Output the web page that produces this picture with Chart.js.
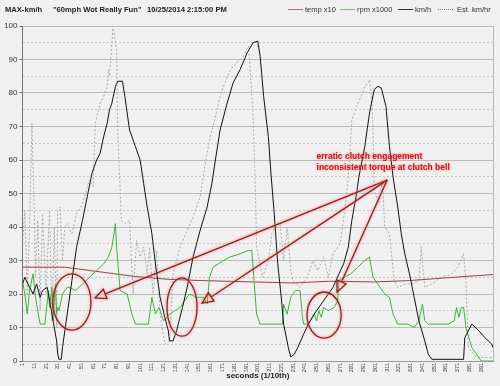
<!DOCTYPE html>
<html lang="en">
<head>
  <meta charset="UTF-8" />
  <title>60mph Wot Really Fun</title>
  <script src="https://cdn.jsdelivr.net/npm/chart.js"></script>
  <style>
    body {
      margin: 0;
      background: #f0f0f0;
      font-family: Arial, "Liberation Sans", sans-serif;
    }

    .wrap {
      position: relative;
      width: 500px;
      height: 386px;
    }

    .chart-box {
      position: absolute;
      left: 0;
      top: 0;
      width: 500px;
      height: 386px;
    }

    .head {
      position: absolute;
      top: 5px;
      font-size: 7.6px;
      font-weight: bold;
      color: #222;
      white-space: nowrap;
    }

    .key {
      position: absolute;
      top: 9px;
      width: 15px;
      border-top: 1px solid;
    }

    .key-text {
      position: absolute;
      top: 5px;
      font-size: 7.5px;
      color: #333;
      white-space: nowrap;
    }
  </style>
</head>
<body>
  <div class="wrap">
    <div class="chart-box"><canvas id="runChart"></canvas></div>

    <div class="head" style="left:5px">MAX-km/h</div>
    <div class="head" style="left:53px">"60mph Wot Really Fun"</div>
    <div class="head" style="left:147px">10/25/2014 2:15:00 PM</div>

    <div class="key" style="left:288px; border-color:#c46a6a"></div>
    <div class="key-text" style="left:305px">temp x10</div>
    <div class="key" style="left:340px; border-color:#6cc46c"></div>
    <div class="key-text" style="left:357px">rpm x1000</div>
    <div class="key" style="left:398px; border-color:#333"></div>
    <div class="key-text" style="left:415px">km/h</div>
    <div class="key" style="left:438px; border-top:1px dotted #888"></div>
    <div class="key-text" style="left:457px">Est. km/hr</div>
  </div>

  <script>
    // x tick labels (tenths of a second)
    const tickSecs = [1, 11, 21, 31, 41, 51, 61, 71, 81, 91, 101, 111, 121, 131, 141, 151, 161, 171, 181, 191,
      201, 211, 221, 231, 241, 251, 261, 271, 281, 291, 301, 311, 321, 331, 341, 351, 361, 371, 381, 391];

    // km/h (black)
    const kmhSec = [1, 3, 7, 10, 13, 16, 18, 22, 24, 27,
      30, 31, 32, 34, 35, 39, 43, 47, 52, 56,
      60, 64, 67, 70, 73, 75, 77, 80, 82, 86,
      88, 92, 97, 101, 104, 107, 111, 114, 118, 122,
      125, 126, 129, 132, 137, 141, 146, 152, 158, 162,
      165, 169, 175, 180, 186, 192, 197, 201, 203, 206,
      210, 212, 215, 218, 221, 223, 227, 229, 232, 235,
      240, 244, 249, 255, 261, 265, 270, 274, 278, 281,
      285, 287, 292, 296, 300, 303, 306, 310, 313, 316,
      320, 323, 326, 330, 334, 338, 343, 346, 349, 376,
      377, 383, 389, 394, 400, 401];
    const kmhVal = [23, 25, 22, 20, 23, 19, 21, 22, 18, 12,
      6, 2, 0.5, 0.5, 4, 14, 24, 34, 42, 49,
      56, 60, 62, 67, 71, 75, 77, 82, 83.5, 83.5,
      79, 69, 64, 60, 53, 46, 38, 29, 19, 13,
      9, 6, 6, 9, 16, 22, 31, 39, 46, 53,
      60, 69, 77, 83, 87, 92, 95, 95.5, 91, 79,
      67, 57, 44, 29, 19, 11, 4, 1.2, 2, 4,
      8, 11, 14, 17, 20, 22, 26, 29, 34, 42,
      50, 55, 64, 74, 81, 82, 81.5, 76, 64, 55,
      46, 38, 32, 26, 19, 12, 6, 2, 0.5, 0.5,
      7, 11, 9, 7, 5, 4];

    // rpm x1000 (green)
    const rpmSec = [1, 3, 5, 7, 10, 12, 14, 16, 20, 23,
      24, 26, 27, 29, 30, 31, 32, 35, 39, 41,
      46, 52, 58, 64, 70, 74, 77, 80, 81, 84,
      90, 94, 97, 108, 111, 114, 117, 121, 126, 135,
      143, 149, 155, 158, 160, 163, 172, 177, 186, 193,
      196, 197, 200, 203, 212, 218, 222, 223, 226, 229,
      233, 237, 239, 240, 244, 249, 251, 253, 255, 257,
      261, 266, 269, 270, 274, 280, 286, 292, 296, 299,
      303, 309, 313, 316, 320, 329, 334, 338, 341, 343,
      346, 355, 363, 368, 370, 372, 374, 376, 378, 383,
      385, 391, 401];
    const rpmVal = [24, 20, 14, 21, 26, 19, 15, 11, 11, 21,
      16, 22, 12, 23, 14, 16, 15, 20, 22, 22,
      21, 23, 25, 27, 29, 31, 34, 41, 34, 21,
      20, 14, 11, 11, 19, 14, 16, 12, 14, 16,
      20, 19, 19, 17, 25, 28, 30, 31, 32, 33,
      33, 28, 14, 11, 11, 11, 11, 17, 14, 19,
      21, 21, 13, 11, 11, 14, 12, 15, 13, 16,
      15, 16, 18, 24, 25, 26, 28, 30, 31, 25,
      23, 20, 19, 14, 11, 11, 10, 12, 17, 12,
      11, 11, 11, 12, 16, 13, 16, 16, 10, 4,
      3, 0, 0];

    // temp x10 (brown)
    const tempSec = [1, 37, 67, 95, 124, 154, 197, 231, 262, 300, 330, 360, 401];
    const tempVal = [28, 28, 26.6, 25.3, 24.4, 24, 23.6, 23.3, 23.8, 23.6, 24, 24.8, 25.8];

    // Est. km/hr (dotted grey)
    const estSec = [1, 3, 5, 7, 9, 11, 12, 14, 16, 18,
      21, 24, 26, 28, 30, 31, 33, 35, 37, 39,
      43, 47, 52, 56, 58, 61, 63, 67, 70, 73,
      74, 75, 78, 81, 82, 84, 85, 88, 92, 95,
      98, 101, 104, 107, 109, 112, 115, 118, 122, 126,
      129, 135, 141, 146, 152, 156, 160, 163, 169, 175,
      180, 189, 193, 194, 197, 199, 200, 205, 210, 213,
      218, 220, 223, 226, 229, 231, 237, 243, 248, 252,
      257, 261, 265, 271, 275, 278, 281, 285, 289, 292,
      295, 296, 298, 299, 300, 304, 307, 309, 313, 317,
      320, 327, 332, 338, 340, 343, 349, 357, 366, 371,
      376, 378, 380, 387, 401];
    const estVal = [35, 45, 20, 40, 71, 45, 25, 42, 15, 44,
      20, 45, 12, 40, 10, 45, 46, 30, 40, 41,
      38, 44, 47, 52, 54, 52, 71, 77, 79, 82,
      87, 85, 100, 93, 68, 51, 42, 41, 42, 20,
      36, 31, 34, 26, 34, 20, 33, 14, 5, 6,
      26, 34, 39, 43, 49, 58, 66, 70, 79, 85,
      88, 91, 94, 90, 74, 51, 34, 25, 30, 38,
      41, 41, 30, 40, 27, 24, 22, 25, 30, 27,
      31, 25, 32, 35, 45, 55, 72, 76, 79, 82,
      83, 84, 78, 69, 51, 47, 54, 40, 38, 24,
      22, 23, 23, 24, 34, 22, 23, 25, 26, 28,
      32, 24, 4, 1, 1];

    // hand-drawn notes, in chart units
    const noteLines = ['erratic clutch engagement', 'inconsistent torque at clutch bell'];
    const noteAt = [251, 60.9];
    const arrowFrom = [311, 54];
    const arrowTips = [[62.6, 18.8], [153.6, 17.3], [268.4, 20.6]];
    const rings = [[43, 17.6, 16.2, 8.4], [136.6, 16.1, 12.8, 8.7], [257.4, 13.7, 14.5, 6.9]];

    const toPoints = (secs, vals) => secs.map((s, i) => ({ x: s, y: vals[i] }));

    const calloutPlugin = {
      id: 'callouts',
      afterDatasetsDraw(chart) {
        const { ctx, scales: { x, y } } = chart;
        ctx.save();
        ctx.shadowColor = 'rgba(255, 110, 110, 0.9)';
        ctx.shadowBlur = 3;
        ctx.strokeStyle = '#8e1f1f';
        ctx.lineWidth = 1.3;

        rings.forEach(([cx, cy, rx, ry]) => {
          const px = x.getPixelForValue(cx);
          const py = y.getPixelForValue(cy);
          ctx.beginPath();
          ctx.ellipse(px, py,
            Math.abs(x.getPixelForValue(cx + rx) - px),
            Math.abs(y.getPixelForValue(cy + ry) - py), 0, 0, Math.PI * 2);
          ctx.stroke();
        });

        const ox = x.getPixelForValue(arrowFrom[0]);
        const oy = y.getPixelForValue(arrowFrom[1]);
        arrowTips.forEach(([tx, ty]) => {
          const px = x.getPixelForValue(tx);
          const py = y.getPixelForValue(ty);
          const a = Math.atan2(py - oy, px - ox);
          const cos = Math.cos(a), sin = Math.sin(a);
          const bx = px - 11 * cos, by = py - 11 * sin;
          ctx.beginPath();
          ctx.moveTo(ox, oy);
          ctx.lineTo(bx, by);
          ctx.stroke();
          ctx.beginPath();
          ctx.moveTo(px, py);
          ctx.lineTo(bx - 5 * sin, by + 5 * cos);
          ctx.lineTo(bx + 5 * sin, by - 5 * cos);
          ctx.closePath();
          ctx.stroke();
        });

        ctx.fillStyle = '#c81414';
        ctx.font = 'bold 8.5px Arial, "Liberation Sans", sans-serif';
        ctx.textBaseline = 'middle';
        const nx = x.getPixelForValue(noteAt[0]);
        const ny = y.getPixelForValue(noteAt[1]);
        noteLines.forEach((t, i) => ctx.fillText(t, nx, ny + i * 11));
        ctx.restore();
      }
    };

    const frameLine = {
      id: 'frameLine',
      beforeDatasetsDraw(chart) {
        const { ctx, chartArea } = chart;
        ctx.save();
        ctx.strokeStyle = '#b8b8b8';
        ctx.beginPath();
        ctx.moveTo(chartArea.right + 0.5, chartArea.top);
        ctx.lineTo(chartArea.right + 0.5, chartArea.bottom);
        ctx.stroke();
        ctx.restore();
      }
    };

    const ctx = document.getElementById('runChart').getContext('2d');

    new Chart(ctx, {
      type: 'line',
      data: {
        datasets: [
          {
            label: 'km/h',
            data: toPoints(kmhSec, kmhVal),
            borderColor: '#111',
            borderWidth: 1
          },
          {
            label: 'rpm x1000',
            data: toPoints(rpmSec, rpmVal),
            borderColor: '#3cb43c',
            borderWidth: 1
          },
          {
            label: 'temp x10',
            data: toPoints(tempSec, tempVal),
            borderColor: '#9c4040',
            borderWidth: 1
          },
          {
            label: 'Est. km/hr',
            data: toPoints(estSec, estVal),
            borderColor: '#aaaaaa',
            borderWidth: 1,
            borderDash: [2, 2]
          }
        ]
      },
      options: {
        responsive: true,
        maintainAspectRatio: false,
        animation: false,
        layout: { padding: { top: 26, right: 7, left: 0, bottom: 0 } },
        elements: { point: { radius: 0 }, line: { tension: 0 } },
        font: { family: 'Arial, "Liberation Sans", sans-serif' },
        plugins: {
          legend: { display: false },
          tooltip: { enabled: false }
        },
        scales: {
          x: {
            type: 'linear',
            min: 1,
            max: 401,
            afterBuildTicks: (axis) => { axis.ticks = tickSecs.map(v => ({ value: v })); },
            afterFit: (scale) => { scale.height = 25; },
            grid: { drawOnChartArea: false, drawTicks: false },
            border: { display: true, color: '#999' },
            ticks: {
              autoSkip: false,
              minRotation: 90,
              maxRotation: 90,
              padding: 2,
              color: '#333',
              font: { size: 5.5 }
            },
            title: {
              display: true,
              text: 'seconds (1/10th)',
              color: '#222',
              font: { size: 8, weight: 'bold' },
              padding: { top: 0, bottom: 5 }
            }
          },
          y: {
            min: 0,
            max: 100,
            afterFit: (scale) => { scale.width = 22.5; },
            grid: {
              color: (c) => c.tick && c.tick.value % 10 === 0 ? '#bcbcbc' : '#c6c6c6',
              tickColor: (c) => c.tick && c.tick.value % 10 === 0 ? '#666' : 'rgba(0,0,0,0)',
              tickLength: 3
            },
            border: {
              display: true,
              color: '#777',
              dash: (c) => c.tick && c.tick.value % 10 !== 0 ? [2, 2] : []
            },
            ticks: {
              stepSize: 5,
              autoSkip: false,
              padding: 2,
              color: '#333',
              font: { size: 8 },
              callback: (v) => v % 10 === 0 ? v : ''
            }
          }
        }
      },
      plugins: [frameLine, calloutPlugin]
    });
  </script>
</body>
</html>
